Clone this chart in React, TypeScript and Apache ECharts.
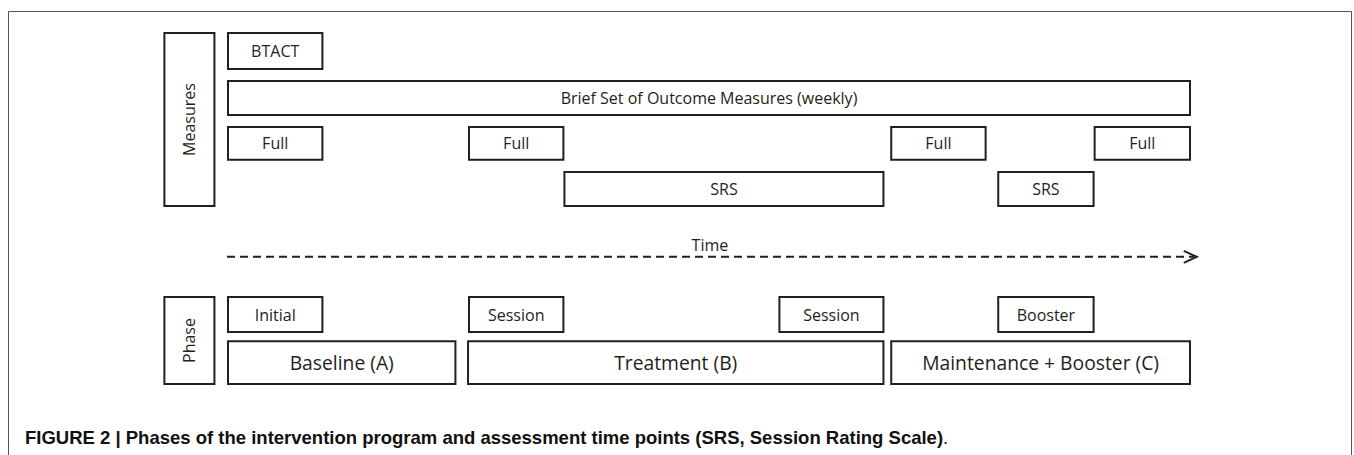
import React, { useEffect, useRef } from "react";
import * as echarts from "echarts";

// Boxes of the diagram: label, start/end on the time scale (0-100), row index
const boxLabels = [
  "BTACT",
  "Brief Set of Outcome Measures (weekly)",
  "Full", "Full", "Full", "Full",
  "SRS", "SRS",
  "Initial", "Session", "Session", "Booster",
  "Baseline (A)", "Treatment (B)", "Maintenance + Booster (C)",
];
const boxStart = [0, 0, 0, 25, 68.8, 89.9, 34.9, 79.9, 0, 25, 57.2, 79.9, 0, 24.9, 68.8];
const boxEnd = [10, 100, 10, 35, 78.8, 100, 68.2, 90, 10, 35, 68.2, 90, 23.8, 68.2, 100];
const boxRow = [0, 1, 2, 2, 2, 2, 3, 3, 4, 4, 4, 4, 5, 5, 5];
const boxLarge = [0, 0, 0, 0, 0, 0, 0, 0, 0, 0, 0, 0, 1, 1, 1];

// Row bands on the vertical scale (0-100, top to bottom)
const rowTop = [0, 13.6, 26.6, 39.4, 74.8, 87.3];
const rowBottom = [10.8, 23.8, 36.5, 49.6, 85.3, 100];

// Group labels on the left
const groupLabels = ["Measures", "Phase"];
const groupStart = [-6.6, -6.6];
const groupEnd = [-1.2, -1.2];
const groupTop = [0, 74.8];
const groupBottom = [49.6, 100];

// Time arrow
const timeLabel = "Time";
const timeFrom = 0;
const timeTo = 100.6;
const timeLevel = 63.7;

const caption =
  "FIGURE 2 | Phases of the intervention program and assessment time points (SRS, Session Rating Scale)";

const INK = "#231f20";
const FONT = "Open Sans";
const SMALL = 16;
const LARGE = 19.3;

export default function App() {
  const ref = useRef<HTMLDivElement>(null);
  useEffect(() => {
    document.body.style.margin = "0";
    const chart = echarts.init(ref.current!, null, { renderer: "svg" });
    const boxData = boxLabels.map((_, i) => [
      boxStart[i],
      boxEnd[i],
      rowTop[boxRow[i]],
      rowBottom[boxRow[i]],
    ]);
    const groupData = groupLabels.map((_, i) => [
      groupStart[i],
      groupEnd[i],
      groupTop[i],
      groupBottom[i],
    ]);
    chart.setOption({
      animation: false,
      backgroundColor: "#fff",
      grid: { left: 227, right: 163, top: 32, bottom: 70 },
      xAxis: { type: "value", min: 0, max: 100, show: false },
      yAxis: { type: "value", min: 0, max: 100, inverse: true, show: false },
      series: [
        {
          type: "custom",
          clip: false,
          data: boxData,
          encode: { x: [0, 1], y: [2, 3] },
          renderItem: (params: any, api: any) => {
            const i = params.dataIndex;
            const p0 = api.coord([api.value(0), api.value(2)]);
            const p1 = api.coord([api.value(1), api.value(3)]);
            return {
              type: "group",
              children: [
                {
                  type: "rect",
                  shape: { x: p0[0] + 1, y: p0[1] + 1, width: p1[0] - p0[0] - 2, height: p1[1] - p0[1] - 2 },
                  style: { fill: "#fff", stroke: INK, lineWidth: 2 },
                },
                {
                  type: "text",
                  x: (p0[0] + p1[0]) / 2,
                  y: (p0[1] + p1[1]) / 2,
                  style: {
                    text: boxLabels[i],
                    align: "center",
                    verticalAlign: "middle",
                    fontFamily: FONT,
                    fontSize: boxLarge[i] ? LARGE : SMALL,
                    fill: INK,
                  },
                },
              ],
            };
          },
        },
        {
          type: "custom",
          clip: false,
          data: groupData,
          encode: { x: [0, 1], y: [2, 3] },
          renderItem: (params: any, api: any) => {
            const i = params.dataIndex;
            const p0 = api.coord([api.value(0), api.value(2)]);
            const p1 = api.coord([api.value(1), api.value(3)]);
            return {
              type: "group",
              children: [
                {
                  type: "rect",
                  shape: { x: p0[0] + 1, y: p0[1] + 1, width: p1[0] - p0[0] - 2, height: p1[1] - p0[1] - 2 },
                  style: { fill: "#fff", stroke: INK, lineWidth: 2 },
                },
                {
                  type: "text",
                  x: (p0[0] + p1[0]) / 2,
                  y: (p0[1] + p1[1]) / 2,
                  rotation: Math.PI / 2,
                  style: {
                    text: groupLabels[i],
                    align: "center",
                    verticalAlign: "middle",
                    fontFamily: FONT,
                    fontSize: SMALL,
                    fill: INK,
                  },
                },
              ],
            };
          },
        },
        {
          type: "custom",
          clip: false,
          data: [[timeFrom, timeTo, timeLevel]],
          encode: { x: [0, 1], y: 2 },
          renderItem: (params: any, api: any) => {
            const a = api.coord([api.value(0), api.value(2)]);
            const b = api.coord([api.value(1), api.value(2)]);
            return {
              type: "group",
              children: [
                {
                  type: "line",
                  shape: { x1: a[0], y1: a[1], x2: b[0] - 3, y2: b[1] },
                  style: { stroke: INK, lineWidth: 2, lineDash: [8, 5] },
                },
                {
                  type: "polyline",
                  shape: { points: [[b[0] - 13, b[1] - 6], [b[0], b[1]], [b[0] - 13, b[1] + 6]] },
                  style: { stroke: INK, lineWidth: 2, fill: "none" },
                },
                {
                  type: "text",
                  x: (a[0] + b[0]) / 2 - 2,
                  y: a[1] - 12,
                  style: {
                    text: timeLabel,
                    align: "center",
                    verticalAlign: "middle",
                    fontFamily: FONT,
                    fontSize: SMALL,
                    fill: INK,
                  },
                },
              ],
            };
          },
        },
      ],
      graphic: [
        { type: "line", shape: { x1: 8.5, y1: 11.5, x2: 1351.5, y2: 11.5 }, style: { stroke: "#555", lineWidth: 1 } },
        { type: "line", shape: { x1: 8.5, y1: 11.5, x2: 8.5, y2: 455 }, style: { stroke: "#555", lineWidth: 1 } },
        { type: "line", shape: { x1: 1351.5, y1: 11.5, x2: 1351.5, y2: 455 }, style: { stroke: "#555", lineWidth: 1 } },
        {
          type: "text",
          x: 25,
          y: 437,
          style: {
            text: "{b|" + caption + "}{n|.}",
            verticalAlign: "middle",
            rich: {
              b: { fontFamily: "Liberation Sans", fontWeight: "bold", fontSize: 18.5, fill: "#111" },
              n: { fontFamily: "Liberation Sans", fontSize: 18.5, fill: "#111" },
            },
          },
        },
      ],
    });
    return () => chart.dispose();
  }, []);
  return <div ref={ref} style={{ width: 1354, height: 455 }} />;
}
